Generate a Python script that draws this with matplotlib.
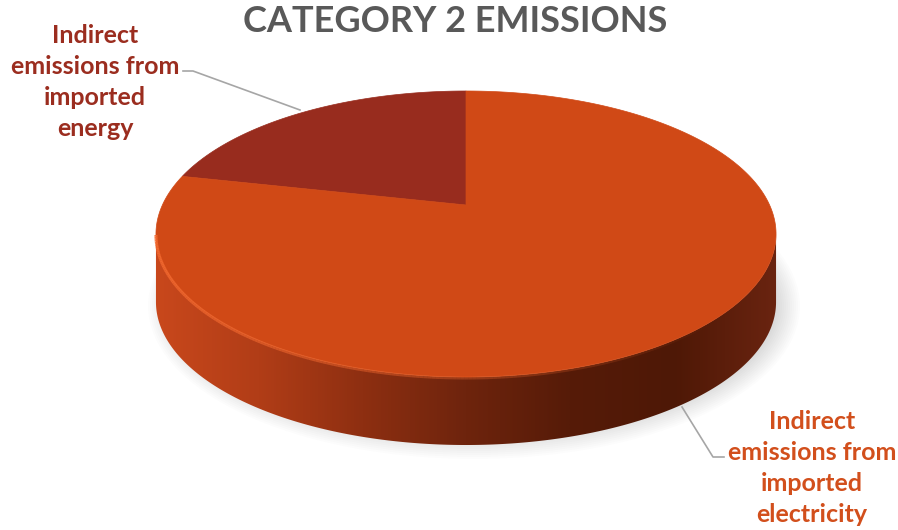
import numpy as np
import matplotlib.pyplot as plt
from matplotlib.patches import Polygon, Ellipse
from matplotlib.collections import LineCollection
from matplotlib.colors import LinearSegmentedColormap, to_rgba

# Category 2 emissions split (percent of total)
categories = ['Indirect\nemissions from\nimported\nenergy',
              'Indirect\nemissions from\nimported\nelectricity']
shares = [21.5, 78.5]
slice_colors = ['#982C1E', '#D04916']
label_colors = ['#9B2D1F', '#D24F1C']
title = 'CATEGORY 2 EMISSIONS'

fig = plt.figure(figsize=(8.98, 5.30), dpi=100)
ax = fig.add_axes([0, 0, 1, 1])

# simple perspective model of a tilted disk (u right, v away from viewer)
cx, D = 466, 303.6
A, B, C = -95.55, 205.0, 0.2028
depth = 68


def proj(theta, dy=0.0):
    u, v = np.cos(theta), np.sin(theta)
    x = cx + D * u / (1 + C * v)
    y = (A * v + B) / (C * v + 1) + dy
    return np.column_stack([x, y])


# soft shadow under the pie
for k in range(14):
    ax.add_patch(Ellipse((cx + 8, 306), 652 - k * 4, 306 - k * 4,
                         fc='#000000', ec='none', alpha=0.012, zorder=1))

# side wall, shaded left to right
a = np.arcsin(C)
t = np.linspace(np.pi + a, 2 * np.pi - a, 300)
side = np.vstack([proj(t), proj(t[::-1], depth)])
side_patch = Polygon(side, closed=True, fc='none', ec='none', zorder=2)
ax.add_patch(side_patch)
side_cmap = LinearSegmentedColormap.from_list(
    'side', ['#C9481C', '#B13D17', '#8E2F11', '#6E240D', '#561B08', '#4E1806', '#6A2410'])
grad = np.linspace(0, 1, 512).reshape(1, -1)
im = ax.imshow(grad, cmap=side_cmap, extent=[cx - 312, cx + 312, 460, 200],
               aspect='auto', zorder=2, interpolation='bilinear')
im.set_clip_path(side_patch)

# top face wedges
total = sum(shares)
start = 90.0
for share, col in zip(shares, slice_colors):
    sweep = 360.0 * share / total
    tt = np.radians(np.linspace(start, start + sweep, 300))
    pts = np.vstack([[cx, B], proj(tt)])
    ax.add_patch(Polygon(pts, closed=True, fc=col, ec=col, lw=0.5, zorder=3))
    start += sweep

# bevel highlight along the front rim
t = np.linspace(np.pi + a, 1.75 * np.pi, 200)
rp = proj(t, 1.0)
segs = np.stack([rp[:-1], rp[1:]], axis=1)
alphas = np.linspace(0.9, 0.0, len(segs))
cols = [to_rgba('#F46A30', al) for al in alphas]
ax.add_collection(LineCollection(segs, colors=cols, linewidths=2.2, zorder=4))

# leader lines
ax.plot([183, 193, 300], [71, 71, 110], color='#A6A6A6', lw=1.2, zorder=5)
ax.plot([682, 713, 724], [407, 457, 457], color='#A6A6A6', lw=1.2, zorder=5)

# labels
label_pos = [(95, 82), (812, 468)]
for text, (x, y), col in zip(categories, label_pos, label_colors):
    ax.text(x, y, text, ha='center', va='center', multialignment='center',
            color=col, fontsize=18, fontweight='bold', family='Lato',
            linespacing=1.42, zorder=6)

ax.text(455, 22, title, ha='center', va='center', color='#595959',
        fontsize=26, fontweight='bold', family='Lato')

ax.set_xlim(0, 898)
ax.set_ylim(530, 0)
ax.axis('off')

fig.savefig('out.png', dpi=100)
